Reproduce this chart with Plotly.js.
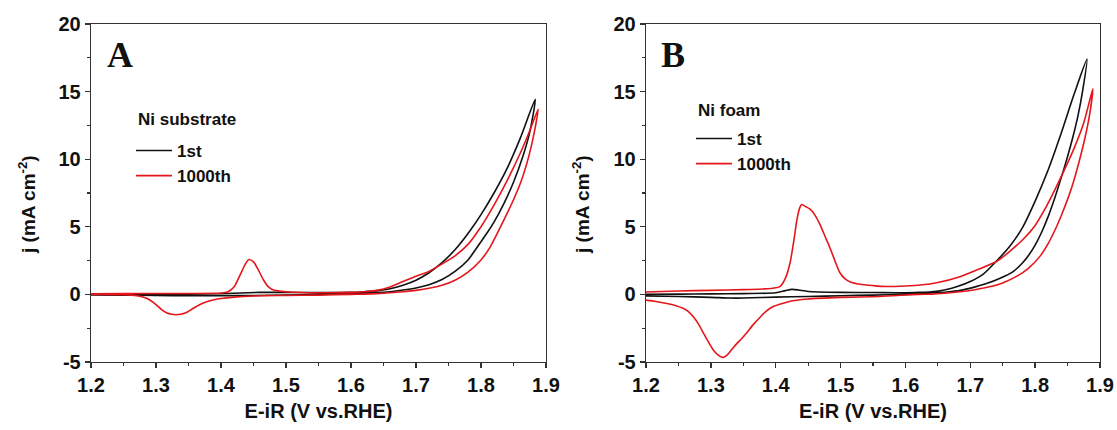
<!DOCTYPE html>
<html><head><meta charset="utf-8">
<script src="https://cdn.plot.ly/plotly-3.0.1.min.js"></script>
<style>body{margin:0;background:#fff}#chart{width:1117px;height:430px}</style>
</head><body><div id="chart"></div>
<script>
// ---------- Panel A : Ni substrate ----------
// 1st cycle (forward scan 1.2 -> vertex, then reverse scan back to 1.2)
const A_1st_V = [1.20,1.25,1.30,1.35,1.40,1.42,1.44,1.46,1.50,1.55,1.60,1.62,1.64,1.66,1.68,1.70,1.72,1.74,1.76,1.78,1.80,1.82,1.84,1.86,1.8835,
                 1.875,1.865,1.85,1.835,1.82,1.81,1.80,1.78,1.76,1.74,1.72,1.70,1.68,1.66,1.64,1.62,1.60,1.55,1.50,1.45,1.40,1.35,1.30,1.25,1.20];
const A_1st_j = [0.00,0.00,0.01,0.02,0.05,0.08,0.12,0.15,0.15,0.13,0.15,0.20,0.28,0.42,0.68,1.05,1.60,2.35,3.30,4.50,5.90,7.50,9.30,11.5,14.43,
                 12.0,10.3,8.3,6.7,5.35,4.60,3.90,2.55,1.70,1.10,0.72,0.48,0.32,0.20,0.13,0.09,0.06,0.00,-0.04,-0.08,-0.10,-0.10,-0.08,-0.05,-0.04];
// 1000th cycle
const A_1000_V = [1.20,1.25,1.30,1.35,1.40,1.41,1.42,1.43,1.437,1.443,1.45,1.457,1.465,1.473,1.482,1.50,1.55,1.60,1.62,1.64,1.66,1.68,1.70,1.72,1.74,1.76,1.78,1.80,1.82,1.84,1.86,1.875,1.888,
                  1.882,1.874,1.862,1.85,1.829,1.814,1.80,1.78,1.76,1.74,1.72,1.70,1.68,1.66,1.64,1.62,1.60,1.55,1.50,1.45,1.42,1.40,1.389,1.378,1.367,1.355,1.345,1.338,1.331,1.324,1.317,1.308,1.30,1.29,1.28,1.27,1.25,1.22,1.20];
const A_1000_j = [0.05,0.06,0.07,0.07,0.10,0.18,0.55,1.50,2.20,2.58,2.40,1.85,1.10,0.55,0.30,0.20,0.12,0.15,0.20,0.30,0.55,0.95,1.35,1.70,2.25,2.85,3.70,5.00,6.60,8.40,10.4,12.1,13.7,
                  12.0,10.3,8.4,7.0,4.90,3.50,2.55,1.65,1.05,0.68,0.45,0.30,0.20,0.12,0.06,0.02,0.00,-0.05,-0.08,-0.12,-0.20,-0.30,-0.40,-0.55,-0.76,-1.10,-1.38,-1.47,-1.50,-1.47,-1.38,-1.10,-0.76,-0.40,-0.20,-0.10,-0.03,0.00,0.00];

// ---------- Panel B : Ni foam ----------
const B_1st_V = [1.20,1.25,1.30,1.35,1.40,1.415,1.425,1.435,1.45,1.50,1.55,1.60,1.62,1.64,1.66,1.68,1.70,1.72,1.74,1.76,1.78,1.80,1.82,1.84,1.86,1.880,
                 1.873,1.866,1.858,1.85,1.84,1.83,1.82,1.81,1.80,1.79,1.78,1.765,1.746,1.725,1.705,1.685,1.664,1.64,1.62,1.60,1.55,1.50,1.45,1.40,1.35,1.33,1.30,1.25,1.20];
const B_1st_j = [0.00,0.02,0.04,0.06,0.12,0.28,0.37,0.33,0.22,0.15,0.14,0.12,0.15,0.20,0.33,0.58,0.95,1.50,2.45,3.50,4.90,6.90,9.20,11.9,14.8,17.4,
                 15.0,13.2,11.6,10.2,8.6,7.1,5.75,4.6,3.65,2.9,2.3,1.65,1.2,0.8,0.52,0.30,0.18,0.10,0.04,0.00,-0.05,-0.10,-0.15,-0.20,-0.27,-0.27,-0.22,-0.15,-0.12];
const B_1000_V = [1.20,1.25,1.30,1.35,1.38,1.395,1.407,1.415,1.422,1.428,1.433,1.437,1.440,1.446,1.453,1.46,1.468,1.476,1.484,1.492,1.499,1.507,1.515,1.53,1.55,1.571,1.60,1.623,1.65,1.684,1.71,1.741,1.76,1.782,1.80,1.815,1.83,1.846,1.86,1.875,1.889,
                  1.884,1.876,1.866,1.857,1.849,1.840,1.831,1.82,1.808,1.79,1.772,1.75,1.73,1.707,1.684,1.66,1.64,1.62,1.56,1.50,1.449,1.421,1.405,1.394,1.385,1.377,1.366,1.355,1.347,1.340,1.332,1.325,1.319,1.313,1.304,1.296,1.289,1.281,1.273,1.265,1.258,1.245,1.232,1.215,1.20];
const B_1000_j = [0.18,0.25,0.30,0.35,0.40,0.45,0.60,1.20,2.30,4.00,5.60,6.40,6.65,6.50,6.30,5.90,5.20,4.30,3.40,2.40,1.60,1.15,0.92,0.75,0.65,0.58,0.62,0.69,0.88,1.31,1.80,2.45,3.15,4.10,5.10,6.30,7.70,9.30,10.8,12.7,15.2,
                  13.3,11.4,9.5,8.0,6.9,5.8,4.8,3.75,2.85,1.95,1.35,0.85,0.56,0.35,0.19,0.08,0.02,0.00,-0.15,-0.22,-0.34,-0.52,-0.75,-0.95,-1.25,-1.63,-2.20,-2.86,-3.30,-3.64,-4.10,-4.50,-4.66,-4.55,-4.13,-3.50,-2.90,-2.20,-1.66,-1.25,-1.04,-0.82,-0.67,-0.52,-0.42];

const seriesNames = ['1st','1000th'];
const panelLabels = ['A','B'];
const panelTitles = ['Ni substrate','Ni foam'];
const xTitle = 'E-iR (V vs.RHE)';
const yTitle = 'j (mA cm<sup>-2</sup>)';
const yTickVals = [-5,0,5,10,15,20];
const yTickLabels = ['-5','0','5','10','15','20'];
const xTickVals = [1.2,1.3,1.4,1.5,1.6,1.7,1.8,1.9];
const xTickLabels = ['1.2','1.3','1.4','1.5','1.6','1.7','1.8','1.9'];

const BLACK = '#111111', RED = '#e5161b';
const W = 1117, H = 430;
const px = v => v / W, py = v => 1 - v / H;

const lineStyle = c => ({color:c, width:1.6, shape:'spline', smoothing:0.7});
const traces = [
  {x:A_1st_V, y:A_1st_j, name:seriesNames[0], xaxis:'x', yaxis:'y', legend:'legend', line:lineStyle(BLACK)},
  {x:A_1000_V, y:A_1000_j, name:seriesNames[1], xaxis:'x', yaxis:'y', legend:'legend', line:lineStyle(RED)},
  {x:B_1st_V, y:B_1st_j, name:seriesNames[0], xaxis:'x2', yaxis:'y2', legend:'legend2', line:lineStyle(BLACK)},
  {x:B_1000_V, y:B_1000_j, name:seriesNames[1], xaxis:'x2', yaxis:'y2', legend:'legend2', line:lineStyle(RED)}
].map(t => Object.assign({type:'scatter', mode:'lines', hoverinfo:'skip'}, t));

const FAM = 'Liberation Sans, Arial, sans-serif';
const tickFont = {family:FAM, size:20, weight:'bold', color:'#111'};
const titleFont = {family:FAM, size:20, weight:'bold', color:'#111'};
const AX = '#333';

function xAx(dom, anchor){
  return {domain:dom, anchor:anchor, range:[1.2,1.9], tickmode:'array', tickvals:xTickVals, ticktext:xTickLabels,
    ticks:'outside', ticklen:5, tickwidth:1.3, tickcolor:AX, showline:true, mirror:true, linecolor:AX, linewidth:1.3,
    showgrid:false, zeroline:false, tickfont:tickFont, fixedrange:true,
    minor:{dtick:0.05, tick0:1.2, ticks:'outside', ticklen:3, tickwidth:1.2, tickcolor:AX, showgrid:false},
    title:{text:xTitle, font:titleFont, standoff:8}};
}
function yAx(dom, anchor){
  return {domain:dom, anchor:anchor, range:[-5,20], tickmode:'array', tickvals:yTickVals, ticktext:yTickLabels,
    ticks:'outside', ticklen:5, tickwidth:1.3, tickcolor:AX, showline:true, mirror:true, linecolor:AX, linewidth:1.3,
    showgrid:false, zeroline:false, tickfont:tickFont, fixedrange:true,
    minor:{dtick:2.5, tick0:0, ticks:'outside', ticklen:3, tickwidth:1.2, tickcolor:AX, showgrid:false}};
}
const yDom = [py(362), py(24)];
const legendFont = {family:FAM, size:17, weight:'bold', color:'#111'};

const layout = {
  width:W, height:H, margin:{l:0,r:0,t:0,b:0}, paper_bgcolor:'#fff', plot_bgcolor:'#fff',
  showlegend:true,
  xaxis:xAx([px(91), px(546)], 'y'), yaxis:yAx(yDom, 'x'),
  xaxis2:xAx([px(646), px(1100)], 'y2'), yaxis2:yAx(yDom, 'x2'),
  legend:{x:px(131), y:py(133), xanchor:'left', yanchor:'top', font:legendFont, bgcolor:'rgba(0,0,0,0)', tracegroupgap:0, itemwidth:36},
  legend2:{x:px(691), y:py(121), xanchor:'left', yanchor:'top', font:legendFont, bgcolor:'rgba(0,0,0,0)', tracegroupgap:0, itemwidth:36},
  annotations:[
    {text:panelLabels[0], xref:'paper', yref:'paper', x:px(120), y:py(55), xanchor:'center', yanchor:'middle', showarrow:false,
     font:{family:'Liberation Serif, Times New Roman, serif', size:36, weight:'bold', color:'#111'}},
    {text:panelLabels[1], xref:'paper', yref:'paper', x:px(673), y:py(55), xanchor:'center', yanchor:'middle', showarrow:false,
     font:{family:'Liberation Serif, Times New Roman, serif', size:36, weight:'bold', color:'#111'}},
    {text:panelTitles[0], xref:'paper', yref:'paper', x:px(136), y:py(119), xanchor:'left', yanchor:'middle', showarrow:false, font:legendFont},
    {text:panelTitles[1], xref:'paper', yref:'paper', x:px(696), y:py(110), xanchor:'left', yanchor:'middle', showarrow:false, font:legendFont},
    {text:yTitle, xref:'paper', yref:'paper', x:px(27), y:py(205), xanchor:'center', yanchor:'middle', textangle:-90, showarrow:false, font:{...titleFont, size:19}},
    {text:yTitle, xref:'paper', yref:'paper', x:px(581), y:py(205), xanchor:'center', yanchor:'middle', textangle:-90, showarrow:false, font:{...titleFont, size:19}}
  ]
};

Plotly.newPlot('chart', traces, layout, {staticPlot:true, displayModeBar:false});
</script></body></html>
